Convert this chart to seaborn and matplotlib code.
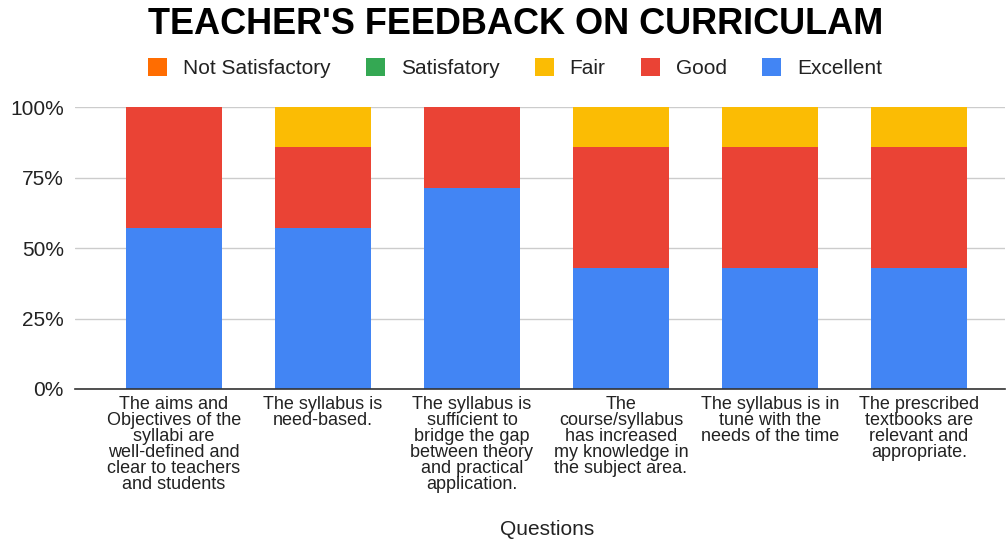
import matplotlib
matplotlib.use("Agg")
import matplotlib.pyplot as plt
from matplotlib.ticker import FuncFormatter
import numpy as np
import pandas as pd
import seaborn as sns

questions = [
    "The aims and\nObjectives of the\nsyllabi are\nwell-defined and\nclear to teachers\nand students",
    "The syllabus is\nneed-based.",
    "The syllabus is\nsufficient to\nbridge the gap\nbetween theory\nand practical\napplication.",
    "The\ncourse/syllabus\nhas increased\nmy knowledge in\nthe subject area.",
    "The syllabus is in\ntune with the\nneeds of the time",
    "The prescribed\ntextbooks are\nrelevant and\nappropriate.",
]
categories = ["Not Satisfactory", "Satisfatory", "Fair", "Good", "Excellent"]
colors = ["#ff6d01", "#34a853", "#fbbc04", "#ea4335", "#4285f4"]

# responses per question (teachers)
not_satisfactory = [0, 0, 0, 0, 0, 0]
satisfatory = [0, 0, 0, 0, 0, 0]
fair = [0, 1, 0, 1, 1, 1]
good = [3, 2, 2, 3, 3, 3]
excellent = [4, 4, 5, 3, 3, 3]

series = [not_satisfactory, satisfatory, fair, good, excellent]
counts = np.array(series, dtype=float)
totals = counts.sum(axis=0)
shares = counts / totals * 100

sns.set_theme(style="white")
plt.rcParams["font.family"] = ["Liberation Sans", "DejaVu Sans"]

fig = plt.figure(figsize=(10.08, 5.41), dpi=100)
ax = fig.add_axes([0.0744, 0.281, 0.9226, 0.521])

# stacked bars: draw cumulative heights from top segment down to base segment
cum = np.cumsum(shares[::-1], axis=0)[::-1]  # cum[i] = sum of shares[i:]
for i, cat in enumerate(categories):
    d = pd.DataFrame({"q": questions, "v": cum[i]})
    sns.barplot(data=d, x="q", y="v", color=colors[i], saturation=1,
                width=0.645, ax=ax, edgecolor="none", linewidth=0)

ax.set_ylim(0, 100)
ax.set_xlim(-0.664, 5.577)
ax.set_yticks([0, 25, 50, 75, 100])
ax.yaxis.set_major_formatter(FuncFormatter(lambda v, p: f"{int(v)}%"))
ax.grid(axis="y", color="#cccccc", linewidth=1)
ax.set_axisbelow(True)
for s in ["top", "right", "left"]:
    ax.spines[s].set_visible(False)
ax.spines["bottom"].set_color("#333333")
ax.spines["bottom"].set_linewidth(1.2)
ax.tick_params(axis="y", length=0, pad=8, labelsize=15, labelcolor="#222222")
ax.tick_params(axis="x", length=0, pad=5, labelsize=13, labelcolor="#222222")
for lbl in ax.get_xticklabels():
    lbl.set_linespacing(0.93)
    lbl.set_verticalalignment("top")
ax.set_xlabel("")
ax.set_ylabel("")
fig.text(0.543, 0.021, "Questions", ha="center", va="center", fontsize=15, color="#222222")

fig.text(0.512, 0.955, "TEACHER'S FEEDBACK ON CURRICULAM", ha="center", va="center",
         fontsize=26, fontweight="bold", color="black")

handles = [plt.Rectangle((0, 0), 1, 1, facecolor=c, edgecolor="none") for c in colors]
fig.legend(handles, categories, loc="center", bbox_to_anchor=(0.511, 0.874), ncol=5,
           frameon=False, fontsize=15, handlelength=0.9, handleheight=0.9,
           handletextpad=0.75, columnspacing=1.72, labelcolor="#222222")

fig.savefig("out.png", dpi=100)
